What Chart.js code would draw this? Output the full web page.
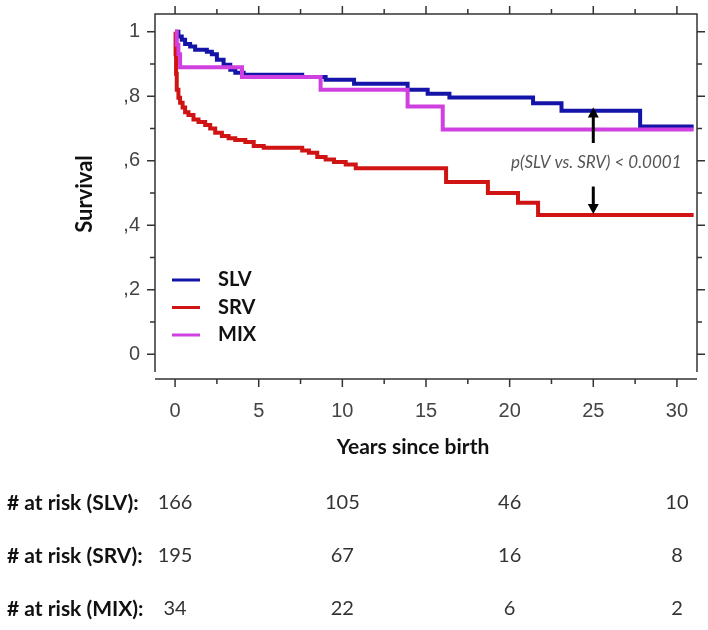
<!DOCTYPE html>
<html>
<head>
<meta charset="utf-8">
<script src="https://cdn.jsdelivr.net/npm/chart.js@4.4.1/dist/chart.umd.min.js"></script>
<style>
  html, body { margin: 0; padding: 0; background: #fff; }
</style>
</head>
<body>
<canvas id="km" width="708" height="630"></canvas>
<script>
// axis ticks
const xTicks = [0, 5, 10, 15, 20, 25, 30];
const yTicks = [0, 0.2, 0.4, 0.6, 0.8, 1];
const yTickLabels = ['0', ',2', ',4', ',6', ',8', '1'];
const xTitle = 'Years since birth';
const yTitle = 'Survival';

// Kaplan-Meier steps (time in years, survival)
const slvTime = [0, 0.2, 0.4, 0.6, 0.9, 1.2, 1.9, 2.2, 2.5, 2.9, 3.3, 3.6, 4.1, 7.6, 9.0, 10.7, 13.9, 15.1, 16.4, 21.4, 23.1, 27.8, 31];
const slvSurv = [1, 0.985, 0.975, 0.962, 0.954, 0.944, 0.938, 0.93, 0.913, 0.898, 0.882, 0.873, 0.867, 0.86, 0.851, 0.839, 0.82, 0.808, 0.796, 0.778, 0.755, 0.706, 0.706];

const srvTime = [0, 0.03, 0.06, 0.1, 0.2, 0.3, 0.45, 0.6, 0.8, 1.1, 1.4, 1.8, 2.1, 2.4, 2.8, 3.2, 3.6, 4.2, 4.7, 5.3, 7.6, 8.0, 8.5, 9.0, 9.5, 10.2, 10.8, 16.2, 18.7, 20.5, 21.7, 31];
const srvSurv = [1, 0.93, 0.87, 0.82, 0.795, 0.78, 0.765, 0.75, 0.742, 0.728, 0.72, 0.711, 0.70, 0.687, 0.677, 0.67, 0.664, 0.658, 0.646, 0.64, 0.632, 0.625, 0.612, 0.604, 0.596, 0.588, 0.577, 0.534, 0.50, 0.47, 0.432, 0.432];

const mixTime = [0, 0.1, 0.2, 0.3, 4.0, 8.7, 13.9, 16.0, 31];
const mixSurv = [1, 0.96, 0.93, 0.89, 0.86, 0.82, 0.768, 0.697, 0.697];

// numbers at risk
const riskTimes = [0, 10, 20, 30];
const riskSLV = [166, 105, 46, 10];
const riskSRV = [195, 67, 16, 8];
const riskMIX = [34, 22, 6, 2];

const groups = ['SLV', 'SRV', 'MIX'];
const colors = ['#1414a8', '#d01414', '#d040e0'];

// p-value annotation
const pText = 'p(SLV vs. SRV) < 0.0001';
const arrowAt = 25;
const arrowUp = [0.655, 0.765];
const arrowDown = [0.52, 0.435];
const pTextY = 0.594;

function toPoints(times, surv) {
  return times.map((t, i) => ({ x: t, y: surv[i] }));
}

const boldFont = '"Lato", "Liberation Sans", sans-serif';

const kmExtras = {
  id: 'kmExtras',
  afterDraw(chart) {
    const { ctx, chartArea: a, scales: { x, y } } = chart;
    ctx.save();

    // box on three sides + detached bottom axis
    ctx.strokeStyle = '#333';
    ctx.lineWidth = 1.5;
    const by = a.bottom + 7;
    ctx.beginPath();
    ctx.moveTo(a.left, a.bottom);
    ctx.lineTo(a.left, a.top);
    ctx.lineTo(a.right, a.top);
    ctx.lineTo(a.right, a.bottom);
    ctx.moveTo(a.left, by);
    ctx.lineTo(a.right, by);
    for (let v = 0; v <= 30; v += 2.5) {
      const px = x.getPixelForValue(v);
      const len = v % 5 === 0 ? 8 : 5;
      ctx.moveTo(px, by); ctx.lineTo(px, by + len);
      ctx.moveTo(px, a.top); ctx.lineTo(px, a.top - len);
    }
    for (let i = 0; i <= 10; i++) {
      const py = y.getPixelForValue(i / 10);
      const len = i % 2 === 0 ? 8 : 5;
      ctx.moveTo(a.left, py); ctx.lineTo(a.left - len, py);
      ctx.moveTo(a.right, py); ctx.lineTo(a.right + len, py);
    }
    ctx.stroke();

    // axis titles
    ctx.fillStyle = '#111';
    ctx.textBaseline = 'middle';
    ctx.textAlign = 'center';
    ctx.font = 'bold 21px ' + boldFont;
    ctx.fillText(xTitle, a.left + 258, a.bottom + 75);
    ctx.save();
    ctx.translate(85, (a.top + a.bottom) / 2 + 1);
    ctx.rotate(-Math.PI / 2);
    ctx.font = 'bold 22px ' + boldFont;
    ctx.fillText(yTitle, 0, 0);
    ctx.restore();

    // legend
    ctx.lineWidth = 3;
    ctx.font = 'bold 20px ' + boldFont;
    ctx.textAlign = 'left';
    groups.forEach((g, i) => {
      const ly = a.top + 266 + i * 27.5;
      ctx.strokeStyle = colors[i];
      ctx.beginPath();
      ctx.moveTo(a.left + 17, ly);
      ctx.lineTo(a.left + 45, ly);
      ctx.stroke();
      ctx.fillStyle = '#111';
      ctx.fillText(g, a.left + 63, ly);
    });

    // arrows
    const ax = x.getPixelForValue(arrowAt);
    ctx.strokeStyle = '#000';
    ctx.fillStyle = '#000';
    ctx.lineWidth = 3;
    [arrowUp, arrowDown].forEach(([from, to]) => {
      const y0 = y.getPixelForValue(from);
      const y1 = y.getPixelForValue(to);
      const dir = y1 < y0 ? 1 : -1;
      ctx.beginPath();
      ctx.moveTo(ax, y0);
      ctx.lineTo(ax, y1 + dir * 8);
      ctx.stroke();
      ctx.beginPath();
      ctx.moveTo(ax, y1);
      ctx.lineTo(ax - 5.5, y1 + dir * 10);
      ctx.lineTo(ax + 5.5, y1 + dir * 10);
      ctx.closePath();
      ctx.fill();
    });

    ctx.font = 'italic 17px ' + boldFont;
    ctx.fillStyle = '#555';
    ctx.textAlign = 'center';
    ctx.fillText(pText, ax + 3, y.getPixelForValue(pTextY));

    // numbers at risk table
    const rows = [riskSLV, riskSRV, riskMIX];
    rows.forEach((row, i) => {
      const ry = a.bottom + 131 + i * 53;
      ctx.textAlign = 'left';
      ctx.font = 'bold 21px ' + boldFont;
      ctx.fillStyle = '#111';
      ctx.fillText('# at risk (' + groups[i] + '):', 7, ry);
      ctx.font = '20px ' + boldFont;
      ctx.fillStyle = '#333';
      ctx.textAlign = 'center';
      row.forEach((n, j) => {
        ctx.fillText(String(n), x.getPixelForValue(riskTimes[j]), ry);
      });
    });

    ctx.restore();
  }
};

new Chart(document.getElementById('km'), {
  type: 'line',
  data: {
    datasets: [
      { label: 'SLV', data: toPoints(slvTime, slvSurv), borderColor: colors[0], order: 2 },
      { label: 'SRV', data: toPoints(srvTime, srvSurv), borderColor: colors[1], order: 1 },
      { label: 'MIX', data: toPoints(mixTime, mixSurv), borderColor: colors[2], order: 0 }
    ]
  },
  options: {
    responsive: false,
    animation: false,
    events: [],
    datasets: {
      line: { stepped: 'before', borderWidth: 4, pointRadius: 0, fill: false }
    },
    layout: { padding: { top: 14, right: 11, bottom: 168, left: 0 } },
    plugins: { legend: { display: false }, tooltip: { enabled: false } },
    scales: {
      x: {
        type: 'linear',
        min: -1.2,
        max: 31.2,
        grid: { display: false, drawTicks: false },
        border: { display: false },
        afterBuildTicks: axis => { axis.ticks = xTicks.map(v => ({ value: v })); },
        afterFit: axis => { axis.height = 90; axis.paddingLeft = 0; axis.paddingRight = 0; },
        ticks: {
          padding: 27,
          color: '#444',
          font: { family: '"Liberation Sans", Arial, sans-serif', size: 20 },
          maxRotation: 0,
          autoSkip: false
        }
      },
      y: {
        min: -0.055,
        max: 1.055,
        grid: { display: false, drawTicks: false },
        border: { display: false },
        afterBuildTicks: axis => { axis.ticks = yTicks.map(v => ({ value: v })); },
        afterFit: axis => { axis.width = 155; axis.paddingTop = 0; axis.paddingBottom = 0; },
        ticks: {
          padding: 15,
          color: '#444',
          font: { family: '"Liberation Sans", Arial, sans-serif', size: 20 },
          callback: (v, i) => yTickLabels[i]
        }
      }
    }
  },
  plugins: [kmExtras]
});
</script>
</body>
</html>
